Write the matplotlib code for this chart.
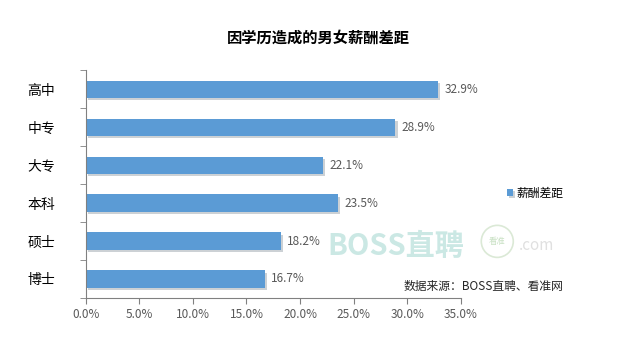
import matplotlib.pyplot as plt
import matplotlib.patheffects as pe
from matplotlib.patches import Ellipse

plt.rcParams['font.family'] = ['Noto Sans CJK SC', 'DejaVu Sans']

# 数据
categories = ["高中", "中专", "大专", "本科", "硕士", "博士"]
gap = [32.9, 28.9, 22.1, 23.5, 18.2, 16.7]
xticks = [0, 5, 10, 15, 20, 25, 30, 35]

fig = plt.figure(figsize=(6.4, 3.56), dpi=100)
ax = fig.add_axes([0.134, 0.163, 0.586, 0.640])

ypos = list(range(len(categories)))
bars = ax.barh(ypos, gap, height=0.45, color="#5B9BD5", label="薪酬差距",
               path_effects=[pe.SimplePatchShadow(offset=(1.5, -1.5), alpha=0.22), pe.Normal()])

for y, v in zip(ypos, gap):
    ax.text(v + 0.6, y, f"{v:.1f}%", va="center", ha="left", fontsize=8.5,
            color="#595959", zorder=5)

ax.set_xlim(0, 35)
ax.set_ylim(len(categories) - 0.5, -0.5)
ax.set_xticks(xticks)
ax.set_xticklabels([f"{t:.1f}%" for t in xticks], fontsize=8.5, color="#595959")
ax.set_yticks(ypos)
ax.set_yticklabels(categories, fontsize=10, color="#000000")
ax.set_yticks([i - 0.5 for i in range(len(categories) + 1)], minor=True)
ax.tick_params(axis="y", which="major", length=0, pad=22)
ax.tick_params(axis="y", which="minor", length=4, color="#808080")
ax.tick_params(axis="x", length=4, color="#808080")

for s in ["top", "right"]:
    ax.spines[s].set_visible(False)
ax.spines["left"].set_color("#808080")
ax.spines["bottom"].set_color("#808080")

fig.text(0.497, 0.893, "因学历造成的男女薪酬差距", ha="center", va="center",
         fontsize=11, fontweight="bold")

fig.legend(handles=[bars], labels=["薪酬差距"], loc="center left",
           bbox_to_anchor=(0.775, 0.458), frameon=False, fontsize=8.5,
           handlelength=0.5, handleheight=0.5, handletextpad=0.3)

# 水印
fig.text(0.512, 0.31, "BOSS直聘", ha="left", va="center", fontsize=21,
         color="#cbe8e4", fontweight="bold", zorder=0)
fig.patches.append(Ellipse((0.777, 0.322), 0.05, 0.09, transform=fig.transFigure,
                           facecolor="none", edgecolor="#dbe9d6", lw=1.2))
fig.text(0.777, 0.322, "看准", ha="center", va="center", fontsize=6, color="#c9e1c4")
fig.text(0.838, 0.31, ".com", ha="center", va="center", fontsize=11, color="#e0e0e0")

fig.text(0.88, 0.196, "数据来源：BOSS直聘、看准网", ha="right", va="center", fontsize=8.5,
         color="#262626")

fig.savefig("out.png", dpi=100)
